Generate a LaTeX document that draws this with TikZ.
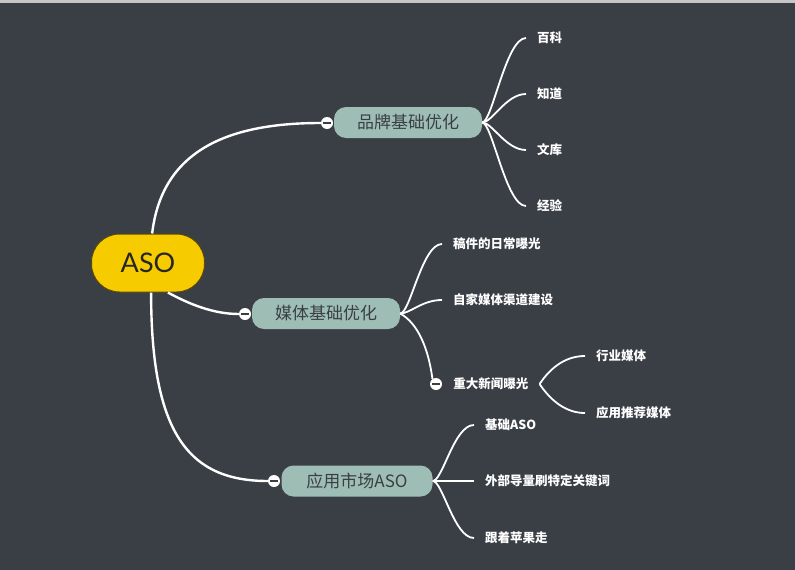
\documentclass[tikz,border=0pt]{standalone}
\usepackage{fontspec}
\newfontfamily\cjk{Noto Sans CJK SC}
\newfontfamily\latinfont{Lato}
\definecolor{board}{RGB}{58,63,70}
\definecolor{asoyellow}{RGB}{246,204,0}
\definecolor{asoedge}{RGB}{92,72,12}
\definecolor{sage}{RGB}{158,189,180}
\definecolor{ink}{RGB}{58,64,66}
\tikzset{
  root/.style={fill=asoyellow, draw=asoedge, line width=1pt, rounded corners=28pt,
    minimum width=113pt, minimum height=58pt, text=black!85,
    font=\latinfont\fontsize{27}{27}\selectfont},
  topic/.style={fill=sage, rounded corners=12pt, minimum height=31pt, text=ink,
    font=\cjk\fontsize{17}{17}\selectfont},
  fold/.style={circle, fill=white, minimum size=12pt, inner sep=0pt,
    path picture={\draw[ink, line width=1.2pt] ([xshift=2pt]path picture bounding box.west)
      -- ([xshift=-2pt]path picture bounding box.east);}},
  leaf/.style={anchor=west, inner xsep=11pt, inner ysep=1pt, text=white,
    font=\cjk\bfseries\fontsize{12.5}{12.5}\selectfont},
  twig/.style={white, line width=1.8pt,
    to path={.. controls +(10,0) and +(-20,0) .. (\tikztotarget)}},
}
\begin{document}
\begin{tikzpicture}[x=1pt, y=-1pt]
  \fill[board] (0,0) rectangle (795,570);
  \fill[gray!45] (0,0) rectangle (795,2.5);
  \useasboundingbox (0,0) rectangle (795,570);

  % main topics
  \node[root] (aso) at (148,263) {ASO};
  \node[topic, minimum width=148pt] (brand) at (408,122.5) {品牌基础优化};
  \node[topic, minimum width=148pt] (media) at (326,313.5) {媒体基础优化};
  \node[topic, minimum width=151pt] (market) at (357,481) {应用市场ASO};
  \node[fold] (f-brand) at (327,123) {};
  \node[fold] (f-media) at (245,314) {};
  \node[fold] (f-market) at (274,481) {};

  % subtopics
  \node[leaf] (baike) at (526,38) {百科};
  \node[leaf] (zhidao) at (526,94) {知道};
  \node[leaf] (wenku) at (526,150) {文库};
  \node[leaf] (jingyan) at (526,206) {经验};
  \node[leaf] (gaojian) at (442,244) {稿件的日常曝光};
  \node[leaf] (zijia) at (442,300) {自家媒体渠道建设};
  \node[fold] (f-news) at (436,384) {};
  \node[leaf] (news) at (f-news.east) {重大新闻曝光};
  \node[leaf] (hangye) at (585,356) {行业媒体};
  \node[leaf] (tuijian) at (585,413) {应用推荐媒体};
  \node[leaf] (jichu) at (474,425) {基础ASO};
  \node[leaf] (waibu) at (474,481) {外部导量刷特定关键词};
  \node[leaf] (pingguo) at (474,538) {跟着苹果走};

  \begin{scope}[white, line width=2.4pt]
    \draw (aso.82) .. controls +(10,-85) and +(-90,0) .. (f-brand.west);
    \draw (aso.-56) .. controls +(22,12) and +(-25,0) .. (f-media.west);
    \draw (aso.-84) .. controls +(0,140) and +(-80,0) .. (f-market.west);
  \end{scope}
  \begin{scope}[twig]
    \draw (brand.east) to (baike.west);
    \draw (brand.east) to (zhidao.west);
    \draw (brand.east) to (wenku.west);
    \draw (brand.east) to (jingyan.west);
    \draw (media.east) to (gaojian.west);
    \draw (media.east) to (zijia.west);
    \draw (media.east) .. controls +(18,10) and +(-4,-30) .. (f-news.125);
    \draw (news.east) .. controls +(12,-18) and +(-18,0) .. (hangye.west);
    \draw (news.east) .. controls +(12,18) and +(-18,0) .. (tuijian.west);
    \draw (market.east) to (jichu.west);
    \draw (market.east) to (waibu.west);
    \draw (market.east) to (pingguo.west);
  \end{scope}
\end{tikzpicture}
\end{document}
